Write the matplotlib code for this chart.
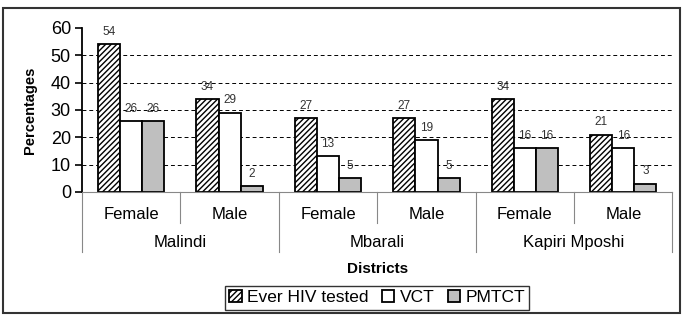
import matplotlib.pyplot as plt
import numpy as np
from matplotlib.patches import Rectangle

plt.rcParams['font.family'] = ['Liberation Sans', 'DejaVu Sans']
plt.rcParams['hatch.linewidth'] = 1.0

districts = ["Malindi", "Mbarali", "Kapiri Mposhi"]
sexes = ["Female", "Male"] * 3
ever_tested = [54, 34, 27, 27, 34, 21]
vct = [26, 29, 13, 19, 16, 16]
pmtct = [26, 2, 5, 5, 16, 3]
series_names = ["Ever HIV tested", "VCT", "PMTCT"]

fig = plt.figure(figsize=(6.85, 3.21), dpi=100)
ax = fig.add_axes([0.1197, 0.402, 0.862, 0.511])

x = np.arange(len(sexes))
w = 0.225
b1 = ax.bar(x - w, ever_tested, w, facecolor="white", edgecolor="black", hatch="//////", lw=1.3, label=series_names[0])
b2 = ax.bar(x, vct, w, facecolor="white", edgecolor="black", lw=1.3, label=series_names[1])
b3 = ax.bar(x + w, pmtct, w, facecolor="#bfbfbf", edgecolor="black", lw=1.3, label=series_names[2])
for bars in (b1, b2, b3):
    for r in bars:
        ax.text(r.get_x() + r.get_width() / 2, r.get_height() + 2.3, str(int(r.get_height())),
                ha="center", va="bottom", fontsize=8.5, color="#333333")

ax.set_xlim(-0.5, 5.5)
ax.set_ylim(0, 60)
ax.set_yticks(range(0, 61, 10))
ax.tick_params(axis="y", labelsize=13, length=5, width=1.2, direction="out", pad=3)
for yv in range(10, 60, 10):
    ax.axhline(yv, color="black", lw=0.7, ls=(0, (4, 3)), zorder=0)
ax.set_xticks([])
for s in ("top", "right"):
    ax.spines[s].set_visible(False)
ax.spines["left"].set_linewidth(1.3)
ax.spines["bottom"].set_color("#888888")
ax.set_ylabel("Percentages", fontsize=10.5, fontweight="bold", labelpad=10)

# hierarchical category axis
tr = ax.get_xaxis_transform()
for i, s in enumerate(sexes):
    ax.text(i, -0.135, s, transform=tr, ha="center", va="center", fontsize=12)
for k, d in enumerate(districts):
    ax.text(2 * k + 0.5, -0.31, d, transform=tr, ha="center", va="center", fontsize=12)
for b in np.arange(-0.5, 6, 1):
    bottom = -0.366 if (b + 0.5) % 2 == 0 else -0.19
    ax.plot([b, b], [0, bottom], transform=tr, color="#888888", lw=0.8, clip_on=False)
ax.text(2.5, -0.47, "Districts", transform=tr, ha="center", va="center", fontsize=11, fontweight="bold")

ax.legend(handles=[b1, b2, b3], labels=series_names, loc="center", bbox_to_anchor=(0.5, -0.645),
          ncol=3, fontsize=12.5, frameon=True, fancybox=False, edgecolor="black",
          handlelength=0.7, handleheight=0.7, handletextpad=0.3, columnspacing=0.8,
          borderpad=0.25, borderaxespad=0)

fig.patches.append(Rectangle((3 / 685, 8 / 321), 677 / 685, 305 / 321, transform=fig.transFigure,
                             fill=False, edgecolor="#333333", lw=1.5))

fig.savefig("out.png", dpi=100)
